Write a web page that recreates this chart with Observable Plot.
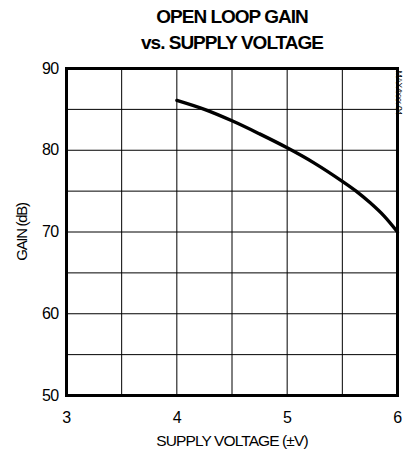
<!DOCTYPE html>
<html><head><meta charset="utf-8">
<script src="https://cdn.jsdelivr.net/npm/d3@7"></script>
<script src="https://cdn.jsdelivr.net/npm/@observablehq/plot@0.6"></script>
<style>
body{margin:0;background:#fff;font-family:"Liberation Sans",Arial,sans-serif;}
#title{width:406px;height:58px;box-sizing:border-box;padding-top:4px;padding-left:58px;text-align:center;font-weight:bold;font-size:19px;line-height:26px;letter-spacing:-1.0px;color:#000;}
svg{display:block;}
</style></head>
<body>
<div id="title">OPEN LOOP GAIN<br>vs. SUPPLY VOLTAGE</div>
<div id="chart"></div>
<script>
const voltage = [4.0, 4.25, 4.5, 4.75, 5.0, 5.25, 5.5, 5.625, 5.75, 5.875, 6.0];
const gain = [86.1, 85.0, 83.6, 82.0, 80.3, 78.4, 76.2, 75.0, 73.6, 72.0, 70.0];
const xTicks = [3, 4, 5, 6];
const yTicks = [50, 60, 70, 80, 90];
const xGrid = [3.5, 4, 4.5, 5, 5.5];
const yGrid = [55, 60, 65, 70, 75, 80, 85];
const data = voltage.map((v, i) => ({v, g: gain[i]}));

const chart = Plot.plot({
  width: 406, height: 401,
  marginLeft: 66, marginRight: 9, marginTop: 10, marginBottom: 64,
  style: {fontFamily: "'Liberation Sans', Arial, sans-serif", background: "#fff", color: "#000"},
  x: {domain: [3, 6]},
  y: {domain: [50, 90]},
  marks: [
    Plot.ruleX(xGrid, {stroke: "#000", strokeWidth: 1}),
    Plot.ruleY(yGrid, {stroke: "#000", strokeWidth: 1}),
    Plot.line(data, {x: "v", y: "g", stroke: "#000", strokeWidth: 3.4, curve: "catmull-rom"}),
    Plot.frame({stroke: "#000", strokeWidth: 3}),
    Plot.axisX({ticks: xTicks, tickFormat: d => String(d), tickSize: 0, tickPadding: 16, label: "SUPPLY VOLTAGE (±V)", labelAnchor: "center", labelArrow: "none", labelOffset: 50}),
    Plot.axisY({ticks: yTicks, tickFormat: d => String(d), tickSize: 0, tickPadding: 8, label: "GAIN (dB)", labelAnchor: "center", labelArrow: "none", labelOffset: 50}),
    Plot.text(["MAX4xxx-04"], {frameAnchor: "top-right", dx: 5, dy: 2, rotate: 90, textAnchor: "start", fontSize: 8.5})
  ]
});
document.getElementById("chart").appendChild(chart);
const s = d3.select(chart);
s.selectAll("[aria-label='x-axis tick label'] text, [aria-label='y-axis tick label'] text").style("font-size", "16px").style("letter-spacing", "-0.6px");
s.selectAll("[aria-label='x-axis label'] text").style("font-size", "15.5px").style("letter-spacing", "-0.9px");
s.selectAll("[aria-label='y-axis label'] text").style("font-size", "15px").style("letter-spacing", "-1.3px");
s.selectAll("[aria-label='text'] text").style("letter-spacing", "-0.4px");
</script>
</body></html>
